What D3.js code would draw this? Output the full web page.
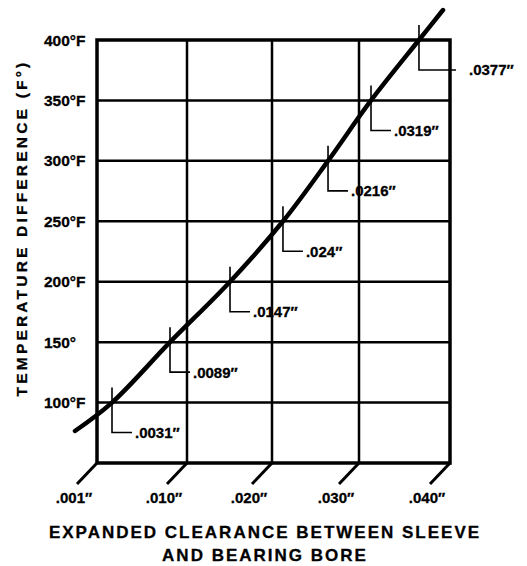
<!DOCTYPE html>
<html>
<head>
<meta charset="utf-8">
<script src="https://cdn.jsdelivr.net/npm/d3@7"></script>
<style>
    body { margin: 0; background: #fff; }
    text { font-family: "Liberation Sans", Arial, sans-serif; font-weight: bold; fill: #000; stroke: #000; stroke-width: 0.3px; }
</style>
</head>
<body>
<div id="display"></div>
<script>
// x axis ticks (clearance, inches) and their labels
const xTicks = [0.001, 0.010, 0.020, 0.030, 0.040];
const xTickLabels = ['.001\u2033', '.010\u2033', '.020\u2033', '.030\u2033', '.040\u2033'];

// y axis ticks (temperature difference) and their labels
const yTicks = [100, 150, 200, 250, 300, 350, 400];
const yTickLabels = ['100°F', '150°', '200°F', '250°F', '300°F', '350°F', '400°F'];

// curve
const curveTemp  = [76.5, 100, 150, 200, 250, 300, 350, 400, 424.8];
const curveClear = [-0.0012, 0.0025, 0.0083, 0.01506, 0.02126, 0.02644, 0.03132, 0.03659, 0.03923];

// marked points on the curve
const markTemp  = [100, 150, 200, 250, 300, 350, 400];
const markLabel = ['.0031\u2033', '.0089\u2033', '.0147\u2033', '.024\u2033', '.0216\u2033', '.0319\u2033', '.0377\u2033'];

// dimensions and margins of the graph
let margin = {top: 40, right: 77, bottom: 103, left: 97};
let width = 527 - margin.left - margin.right;
let height = 566 - margin.top - margin.bottom;

let svg = d3.select('#display')
    .append('svg')
        .attr('width', 527)
        .attr('height', 566)
    .append('g')
        .attr('transform', 'translate(' + margin.left + ',' + margin.top + ')');

// the printed axis is not even: .001 to .010 gets the same room as the others
let xScale = d3.scaleLinear()
    .domain(xTicks)
    .range([0, 90, 175, 262, width]);

let yScale = d3.scaleLinear()
    .domain([50, 400])
    .range([height, 0]);

// grid
svg.append('g')
    .selectAll('line')
    .data(yTicks.slice(0, -1))
    .join('line')
        .attr('x1', 0)
        .attr('x2', width)
        .attr('y1', d => yScale(d))
        .attr('y2', d => yScale(d))
        .attr('stroke', '#000')
        .attr('stroke-width', 2.5);

svg.append('g')
    .selectAll('line')
    .data(xTicks.slice(1, -1))
    .join('line')
        .attr('x1', d => xScale(d))
        .attr('x2', d => xScale(d))
        .attr('y1', 0)
        .attr('y2', height)
        .attr('stroke', '#000')
        .attr('stroke-width', 2.5);

svg.append('rect')
    .attr('width', width)
    .attr('height', height)
    .attr('fill', 'none')
    .attr('stroke', '#000')
    .attr('stroke-width', 3.5);

// slanted ticks under the frame
svg.append('g')
    .selectAll('line')
    .data(xTicks)
    .join('line')
        .attr('x1', d => xScale(d))
        .attr('y1', height)
        .attr('x2', d => xScale(d) - 20)
        .attr('y2', height + 21)
        .attr('stroke', '#000')
        .attr('stroke-width', 3);

svg.append('g')
    .selectAll('text')
    .data(xTicks)
    .join('text')
        .attr('x', d => xScale(d) - 23)
        .attr('y', height + 40)
        .attr('text-anchor', 'middle')
        .style('font-size', '15px')
        .text((d, i) => xTickLabels[i]);

// y tick labels, left aligned
svg.append('g')
    .selectAll('text')
    .data(yTicks)
    .join('text')
        .attr('x', 44 - margin.left)
        .attr('y', d => yScale(d))
        .attr('dy', '0.36em')
        .style('font-size', '15.5px')
        .text((d, i) => yTickLabels[i]);

// curve
let line = d3.line()
    .x(d => xScale(d[0]))
    .y(d => yScale(d[1]))
    .curve(d3.curveCatmullRom.alpha(0.5));

svg.append('path')
    .datum(curveClear.map((c, i) => [c, curveTemp[i]]))
    .attr('d', line)
    .attr('fill', 'none')
    .attr('stroke', '#000')
    .attr('stroke-width', 4.5)
    .attr('stroke-linecap', 'round');

// markers: short drop from the curve, then a leader to the label
let marks = markTemp.map((t, i) => {
    let c = curveClear[curveTemp.indexOf(t)];
    return {x: xScale(c), y: yScale(t), label: markLabel[i], last: i === markTemp.length - 1};
});

let mark = svg.append('g')
    .selectAll('g')
    .data(marks)
    .join('g');

mark.append('path')
    .attr('d', d => 'M' + d.x + ',' + (d.y - 15) +
        'V' + (d.y + 30) + 'H' + (d.x + (d.last ? 37 : 20)))
    .attr('fill', 'none')
    .attr('stroke', '#000')
    .attr('stroke-width', 1.6);

mark.append('text')
    .attr('x', d => d.x + (d.last ? 50 : 23))
    .attr('y', d => d.y + 30)
    .attr('dy', '0.36em')
    .style('font-size', '15px')
    .text(d => d.label);

// axis titles
svg.append('text')
    .attr('transform', 'translate(' + (27 - margin.left) + ',' + (228 - margin.top) + ') rotate(-90)')
    .attr('text-anchor', 'middle')
    .style('font-size', '15.5px')
    .style('letter-spacing', '3.2px')
    .text('TEMPERATURE DIFFERENCE (F°)');

let title = svg.append('text')
    .attr('text-anchor', 'middle')
    .style('font-size', '17px')
    .style('letter-spacing', '2px');

title.append('tspan')
    .attr('x', 265 - margin.left)
    .attr('y', 538 - margin.top)
    .text('EXPANDED CLEARANCE BETWEEN SLEEVE');

title.append('tspan')
    .attr('x', 265 - margin.left)
    .attr('y', 561 - margin.top)
    .text('AND BEARING BORE');
</script>
</body>
</html>
